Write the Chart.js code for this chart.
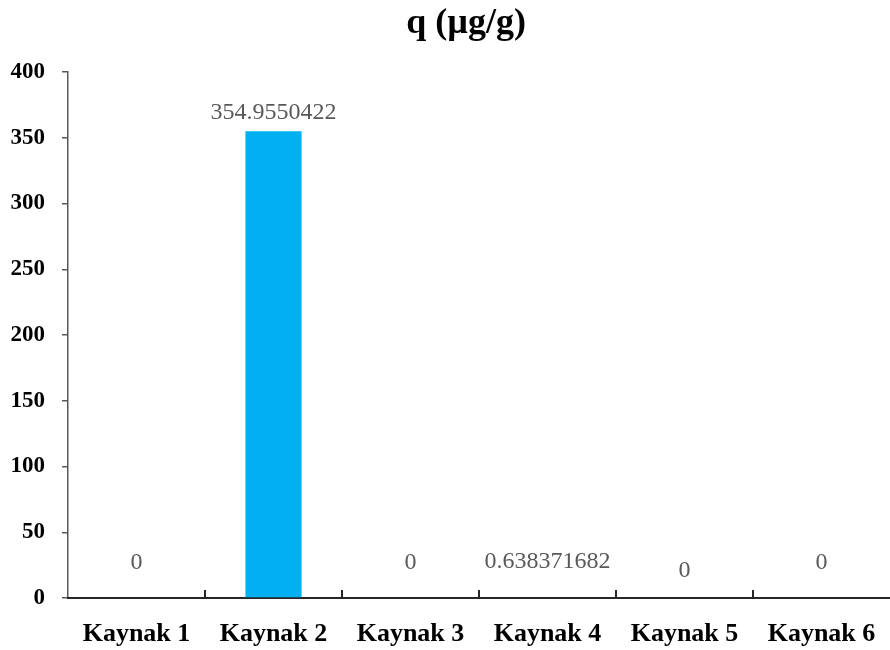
<!DOCTYPE html>
<html>
<head>
<meta charset="utf-8">
<script src="https://cdn.jsdelivr.net/npm/chart.js@4"></script>
<style>
  html, body { margin: 0; padding: 0; background: #fff; }
  #wrap { width: 890px; height: 650px; }
</style>
</head>
<body>
<div id="wrap"><canvas id="myChart"></canvas></div>
<script>
const categories = ['Kaynak 1', 'Kaynak 2', 'Kaynak 3', 'Kaynak 4', 'Kaynak 5', 'Kaynak 6'];
const qValues = [0, 354.9550422, 0, 0.638371682, 0, 0];
const valueLabels = ['0', '354.9550422', '0', '0.638371682', '0', '0'];
const titleText = 'q (µg/g)';

// label lift above the bar top, in px
const labelLift = [35, 19, 35, 35, 27, 35];

const serif = '"Liberation Serif", "Times New Roman", serif';

const barLabels = {
    id: 'barLabels',
    afterDatasetsDraw(chart) {
        const ctx = chart.ctx;
        const meta = chart.getDatasetMeta(0);
        ctx.save();
        ctx.font = '24px ' + serif;
        ctx.fillStyle = '#595959';
        ctx.textAlign = 'center';
        ctx.textBaseline = 'middle';
        meta.data.forEach(function (bar, i) {
            ctx.fillText(valueLabels[i], bar.x, bar.y - labelLift[i]);
        });

        // small inward ticks between categories
        const x = chart.scales.x;
        const bottom = chart.chartArea.bottom;
        ctx.strokeStyle = '#262626';
        ctx.lineWidth = 2;
        for (let i = 1; i < categories.length; i++) {
            const px = Math.round((x.getPixelForValue(i - 1) + x.getPixelForValue(i)) / 2);
            ctx.beginPath();
            ctx.moveTo(px, bottom - 8);
            ctx.lineTo(px, bottom);
            ctx.stroke();
        }

        // chart title
        ctx.font = 'bold 36px ' + serif;
        ctx.fillStyle = '#000';
        ctx.textBaseline = 'middle';
        ctx.fillText(titleText, 466, 24);
        ctx.restore();
    }
};

const ctx = document.getElementById('myChart').getContext('2d');
new Chart(ctx, {
    type: 'bar',
    data: {
        labels: categories,
        datasets: [{
            label: titleText,
            data: qValues,
            backgroundColor: '#00B0F0',
            categoryPercentage: 1,
            barPercentage: 0.41
        }]
    },
    options: {
        responsive: true,
        maintainAspectRatio: false,
        animation: false,
        layout: { padding: { top: 72, right: 0, left: 0, bottom: 0 } },
        plugins: {
            legend: { display: false },
            tooltip: { enabled: false },
            title: { display: false }
        },
        scales: {
            y: {
                min: 0,
                max: 400,
                ticks: {
                    stepSize: 50,
                    padding: 17,
                    color: '#000',
                    font: { family: serif, size: 23, weight: 'bold' }
                },
                grid: { drawOnChartArea: false, tickLength: 6, color: '#595959', lineWidth: 1.5 },
                border: { color: '#595959', width: 1.5 },
                afterFit(scale) { scale.width = 68; }
            },
            x: {
                ticks: {
                    padding: 13,
                    color: '#000',
                    font: { family: serif, size: 26, weight: 'bold' }
                },
                grid: { display: false },
                border: { color: '#262626', width: 2 },
                afterFit(scale) { scale.height = 52; }
            }
        }
    },
    plugins: [barLabels]
});
</script>
</body>
</html>
